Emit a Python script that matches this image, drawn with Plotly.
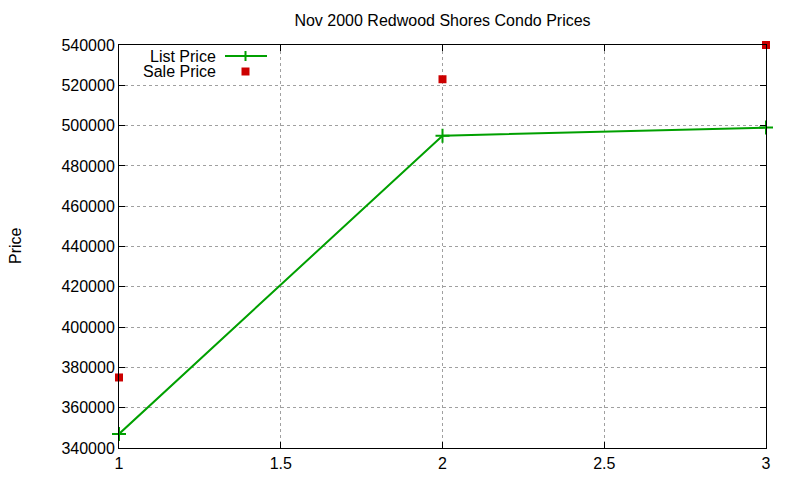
import plotly.graph_objects as go

x_vals = [1, 2, 3]
list_price = [347000, 495000, 499000]
sale_price = [375000, 523000, 540000]
series_names = ["List Price", "Sale Price"]
title_text = "Nov 2000 Redwood Shores Condo Prices"
y_label = "Price"

GREEN = "#00a000"
RED = "#cc0000"
FONT = "Liberation Sans, Arial, sans-serif"
FS = 16

# page offset (body margin) and target plot area in page pixels
OFF = 8
L, R, T, B = 119, 766, 45, 448
W, H = 800 - OFF, 480 - OFF
pw, ph = R - L, B - T

def px(xp):
    return (xp - L) / pw

def py(yp):
    return (B - yp) / ph

fig = go.Figure()
fig.add_trace(go.Scatter(
    x=x_vals, y=list_price, mode="lines+markers", name=series_names[0],
    line=dict(color=GREEN, width=2),
    marker=dict(symbol="cross-thin", size=10, line=dict(color=GREEN, width=2)),
    cliponaxis=False, showlegend=False))
fig.add_trace(go.Scatter(
    x=x_vals, y=sale_price, mode="markers", name=series_names[1],
    marker=dict(symbol="square", size=8, color=RED),
    cliponaxis=False, showlegend=False))

axis_common = dict(
    showline=True, linecolor="black", linewidth=1, mirror="allticks",
    ticks="inside", ticklen=6, tickcolor="black", automargin=False,
    showgrid=True, gridcolor="#a0a0a0", griddash="dot", gridwidth=1,
    zeroline=False, tickfont=dict(family=FONT, size=FS, color="black"),
)

fig.update_xaxes(range=[1, 3], dtick=0.5, tick0=1, ticklabelstandoff=1, **axis_common)
fig.update_yaxes(range=[340000, 540000], dtick=20000, tickformat="d", **axis_common)

annotations = [
    dict(text=series_names[0], xref="paper", yref="paper", x=px(217), y=py(56),
         xanchor="right", yanchor="middle", showarrow=False, borderpad=0,
         font=dict(family=FONT, size=FS, color="black")),
    dict(text=series_names[1], xref="paper", yref="paper", x=px(217), y=py(71),
         xanchor="right", yanchor="middle", showarrow=False, borderpad=0,
         font=dict(family=FONT, size=FS, color="black")),
    dict(text=y_label, xref="paper", yref="paper", x=0, y=py(246), xshift=15 - L,
         xanchor="center", yanchor="middle", textangle=-90, showarrow=False,
         borderpad=0, font=dict(family=FONT, size=FS, color="black")),
]
shapes = [
    dict(type="line", xref="paper", yref="paper", x0=px(225), x1=px(267),
         y0=py(56), y1=py(56), line=dict(color=GREEN, width=2)),
    dict(type="line", xref="paper", yref="paper", x0=px(245.5), x1=px(245.5),
         y0=py(51), y1=py(61), line=dict(color=GREEN, width=2)),
    dict(type="rect", xref="paper", yref="paper", x0=px(241.5), x1=px(249.5),
         y0=py(67.5), y1=py(75.5), fillcolor=RED, line=dict(width=0)),
]

fig.update_layout(
    width=W, height=H,
    margin=dict(l=L - OFF, r=800 - R, t=T - OFF, b=480 - B),
    paper_bgcolor="white", plot_bgcolor="white",
    title=dict(text=title_text, x=0.5, xref="paper", y=1 - (20 - OFF) / H, yref="container",
               xanchor="center", yanchor="middle", automargin=False,
               font=dict(family=FONT, size=FS, color="black")),
    annotations=annotations, shapes=shapes,
    showlegend=False,
)

fig.write_html("out.html")
